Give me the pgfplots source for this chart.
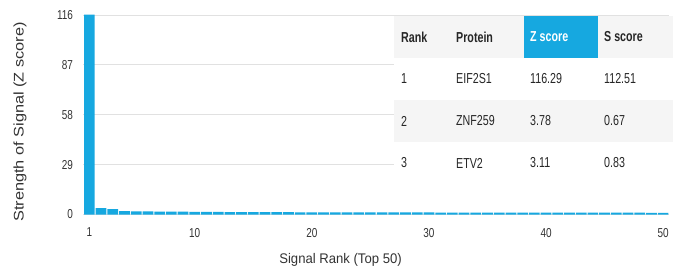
\documentclass[border=0pt]{standalone}
\usepackage{fontspec}
\setmainfont{Liberation Sans}
\usepackage{graphicx}
\usepackage{pgfplots}
\usepackage{pgfplotstable}
\pgfplotsset{compat=1.18}
\definecolor{barblue}{RGB}{22,168,224}
\definecolor{txt}{RGB}{51,51,51}
\definecolor{rowgray}{RGB}{245,245,245}
\definecolor{gridc}{RGB}{225,225,225}

\pgfplotstableread{
rank z
1 116.29
2 3.78
3 3.11
4 2.00
5 1.85
6 1.75
7 1.70
8 1.65
9 1.60
10 1.55
11 1.50
12 1.46
13 1.43
14 1.40
15 1.38
16 1.35
17 1.33
18 1.31
19 1.29
20 1.27
21 1.26
22 1.25
23 1.24
24 1.23
25 1.22
26 1.21
27 1.20
28 1.19
29 1.18
30 1.17
31 1.16
32 1.15
33 1.14
34 1.13
35 1.12
36 1.11
37 1.10
38 1.10
39 1.09
40 1.08
41 1.07
42 1.06
43 1.06
44 1.05
45 1.04
46 1.03
47 1.03
48 1.02
49 1.01
50 1.00
}\ranks

\begin{document}
\begin{tikzpicture}
\begin{axis}[
  scale only axis, width=585.5bp, height=199.5bp,
  xmin=0.5, xmax=50.5, ymin=0, ymax=116,
  axis line style={draw=none},
  major tick length=0pt,
  xtick={1,10,20,30,40,50},
  ytick={0,29,58,87,116},
  ymajorgrids, grid style={gridc, line width=0.8bp},
  /pgf/number format/assume math mode=true,
  tick label style={font=\fontsize{13}{15}\selectfont, text=txt},
  xticklabel style={yshift=-10bp},
  yticklabel style={xshift=-7bp},
  xticklabel={\scalebox{0.77}[1]{\pgfmathprintnumber{\tick}}},
  yticklabel={\scalebox{0.77}[1]{\pgfmathprintnumber{\tick}}},
  label style={font=\fontsize{14}{16}\selectfont, text=txt},
  xlabel={\scalebox{0.94}[1]{Signal Rank (Top 50)}},
  xlabel style={at={(axis description cs:0.439,-0.228)}, anchor=center},
  ylabel={\scalebox{1.17}[1]{Strength of Signal (Z score)}},
  ylabel style={at={(axis description cs:-0.1085,0.464)}, anchor=center},
]
\addplot[ybar, bar width=10.7bp, bar shift=0pt, fill=barblue, draw=none] table[x=rank, y=z]{\ranks};
\end{axis}
\path (current axis.south west) ++(-83.5bp,214.5bp) coordinate (TL);
\path (TL) rectangle ++(683bp,-275bp);
\begin{scope}[shift={(TL)}, x=1bp, y=-1bp]
  \fill[white] (394,16) rectangle (673,186);
  \fill[rowgray] (394,16) rectangle (673,58);
  \fill[barblue] (524,16) rectangle (598,58);
  \fill[rowgray] (394,100) rectangle (673,142);
  \begin{scope}[every node/.style={anchor=west, inner sep=0pt, font=\fontsize{14.5}{17}\selectfont, text=black!85}]
    \node at (401,37) {\bfseries\scalebox{0.74}[1]{Rank}};
    \node at (456,37) {\bfseries\scalebox{0.74}[1]{Protein}};
    \node[text=white] at (530,37) {\bfseries\scalebox{0.74}[1]{Z score}};
    \node at (604,37) {\bfseries\scalebox{0.74}[1]{S score}};
    \node at (401,79) {\scalebox{0.74}[1]{1}};
    \node at (456,79) {\scalebox{0.74}[1]{EIF2S1}};
    \node at (530,79) {\scalebox{0.74}[1]{116.29}};
    \node at (604,79) {\scalebox{0.74}[1]{112.51}};
    \node at (401,121) {\scalebox{0.74}[1]{2}};
    \node at (456,121) {\scalebox{0.74}[1]{ZNF259}};
    \node at (530,121) {\scalebox{0.74}[1]{3.78}};
    \node at (604,121) {\scalebox{0.74}[1]{0.67}};
    \node at (401,163) {\scalebox{0.74}[1]{3}};
    \node at (456,163) {\scalebox{0.74}[1]{ETV2}};
    \node at (530,163) {\scalebox{0.74}[1]{3.11}};
    \node at (604,163) {\scalebox{0.74}[1]{0.83}};
  \end{scope}
\end{scope}
\end{tikzpicture}
\end{document}
